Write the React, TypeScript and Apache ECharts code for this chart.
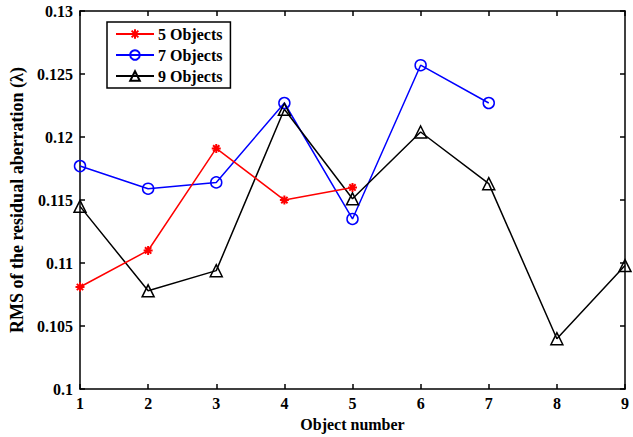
import React, { useEffect, useRef } from "react";
import * as echarts from "echarts";

const objectNumbers = [1, 2, 3, 4, 5, 6, 7, 8, 9];
const fiveObjects = [0.1081, 0.111, 0.1191, 0.115, 0.116];
const sevenObjects = [0.1177, 0.1159, 0.1164, 0.1227, 0.1135, 0.1257, 0.1227];
const nineObjects = [0.1145, 0.1078, 0.1094, 0.1222, 0.1151, 0.1204, 0.1163, 0.104, 0.1098];

const FONT = '"Liberation Serif", "Times New Roman", serif';
const ASTERISK = "path://M0,-10L0,10M-10,0L10,0M-7,-7L7,7M-7,7L7,-7";

const pairs = (vals: number[]) => vals.map((v, i) => [objectNumbers[i], v]);

export default function App() {
  const ref = useRef<HTMLDivElement>(null);
  useEffect(() => {
    if (!ref.current) return;
    const chart = echarts.init(ref.current, undefined, { renderer: "svg" });
    const axisLabel = { color: "#000", fontFamily: FONT, fontWeight: "bold", fontSize: 16 };
    const axisLine = { show: true, lineStyle: { color: "#000", width: 1.5 } };
    const axisTick = { show: true, inside: true, length: 5, lineStyle: { color: "#000", width: 1.5 } };
    chart.setOption({
      animation: false,
      backgroundColor: "#fff",
      grid: { left: 80, right: 8, top: 11, bottom: 45 },
      legend: {
        orient: "vertical",
        left: 107,
        top: 22,
        padding: [4, 8, 4, 8],
        borderColor: "#000",
        borderWidth: 1.5,
        backgroundColor: "#fff",
        itemWidth: 38,
        itemHeight: 12,
        itemGap: 5,
        textStyle: { color: "#000", fontFamily: FONT, fontWeight: "bold", fontSize: 16, padding: [0, 0, 0, -1] },
        data: ["5 Objects", "7 Objects", "9 Objects"],
      },
      xAxis: [
        {
          type: "value",
          min: 1,
          max: 9,
          interval: 1,
          position: "bottom",
          name: "Object number",
          nameLocation: "middle",
          nameGap: 24,
          nameTextStyle: { color: "#000", fontFamily: FONT, fontWeight: "bold", fontSize: 16 },
          axisLine,
          axisTick,
          axisLabel: { ...axisLabel, margin: 6 },
          splitLine: { show: false },
        },
        {
          type: "value",
          min: 1,
          max: 9,
          interval: 1,
          position: "top",
          axisLine,
          axisTick,
          axisLabel: { show: false },
          splitLine: { show: false },
        },
      ],
      yAxis: [
        {
          type: "value",
          min: 0.1,
          max: 0.13,
          interval: 0.005,
          position: "left",
          name: "RMS of the residual aberration (λ)",
          nameLocation: "middle",
          nameGap: 51,
          nameTextStyle: { color: "#000", fontFamily: FONT, fontWeight: "bold", fontSize: 18 },
          axisLine,
          axisTick,
          axisLabel: { ...axisLabel, margin: 7 },
          splitLine: { show: false },
        },
        {
          type: "value",
          min: 0.1,
          max: 0.13,
          interval: 0.005,
          position: "right",
          axisLine,
          axisTick,
          axisLabel: { show: false },
          splitLine: { show: false },
        },
      ],
      series: [
        {
          name: "5 Objects",
          type: "line",
          data: pairs(fiveObjects),
          symbol: ASTERISK,
          symbolSize: 9,
          lineStyle: { color: "#ff0000", width: 1.5 },
          itemStyle: { color: "#ff0000", borderColor: "#ff0000", borderWidth: 2 },
          z: 3,
        },
        {
          name: "7 Objects",
          type: "line",
          data: pairs(sevenObjects),
          symbol: "circle",
          symbolSize: 11,
          lineStyle: { color: "#0000ff", width: 1.5 },
          itemStyle: { color: "rgba(0,0,0,0)", borderColor: "#0000ff", borderWidth: 1.5 },
          z: 2,
        },
        {
          name: "9 Objects",
          type: "line",
          data: pairs(nineObjects),
          symbol: "triangle",
          symbolSize: 12,
          lineStyle: { color: "#000", width: 1.5 },
          itemStyle: { color: "rgba(0,0,0,0)", borderColor: "#000", borderWidth: 1.5 },
          z: 2,
        },
      ],
    });
    return () => chart.dispose();
  }, []);
  return <div ref={ref} style={{ width: 633, height: 437, position: "absolute", left: 0, top: 0 }} />;
}
